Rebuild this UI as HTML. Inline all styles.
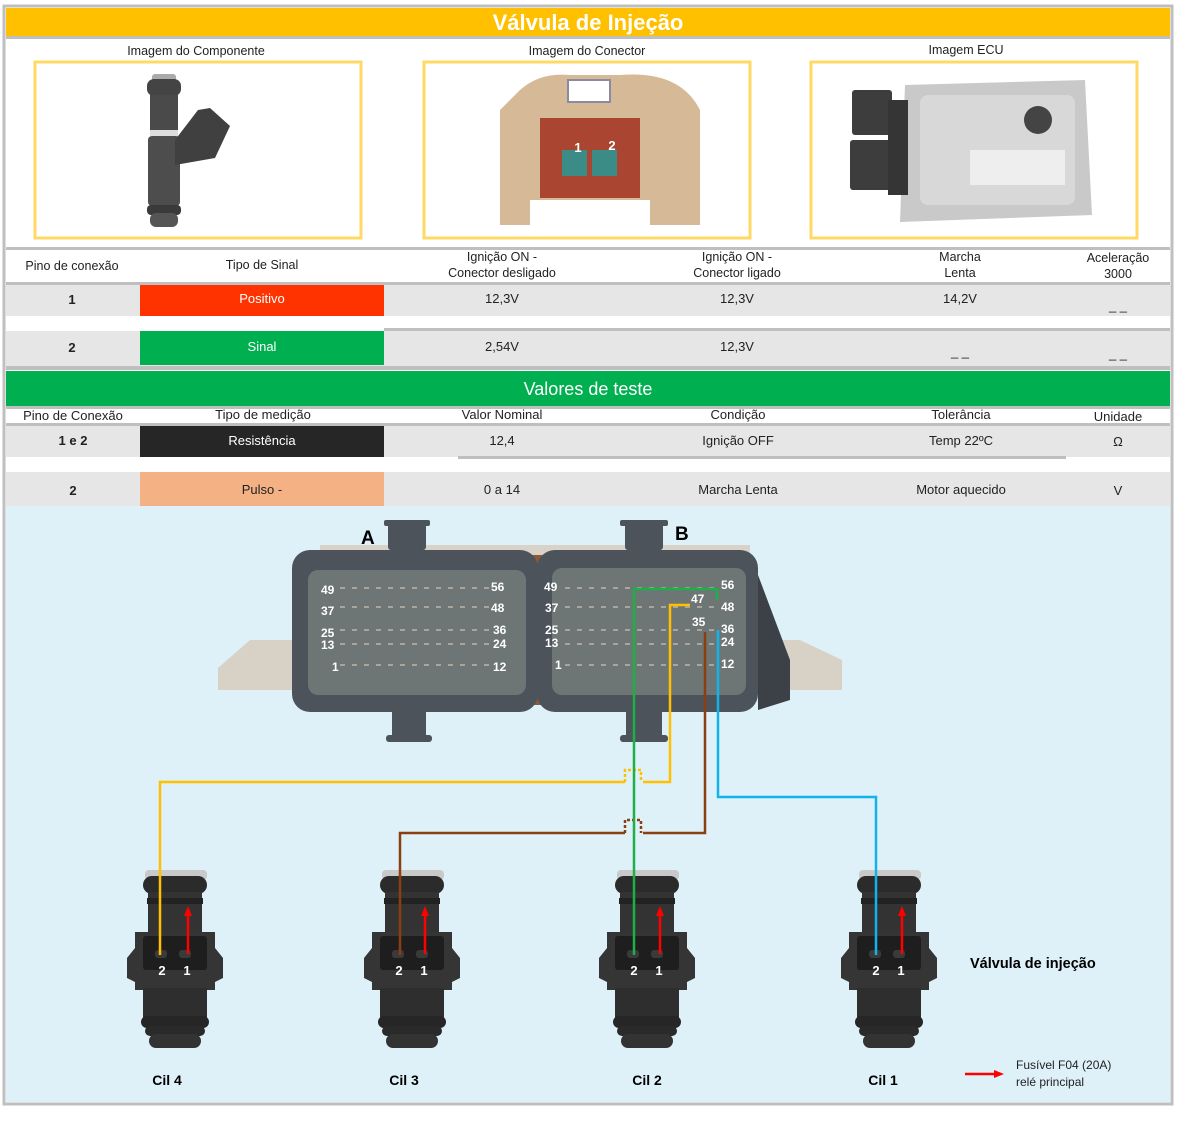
<!DOCTYPE html>
<html><head><meta charset="utf-8"><style>
html,body{margin:0;padding:0;background:#fff}
svg{display:block}
text{font-family:"Liberation Sans",sans-serif}
</style></head><body>
<svg width="1186" height="1133" viewBox="0 0 1186 1133" xmlns="http://www.w3.org/2000/svg">
<defs>
<g id="inj">
  <rect x="-30" y="0" width="62" height="10" rx="4" fill="#c9c9c9"/>
  <rect x="-32" y="6" width="64" height="18" rx="9" fill="#2b2b2b"/>
  <rect x="-27" y="22" width="54" height="40" fill="#333"/>
  <rect x="-28" y="28" width="56" height="6" fill="#222"/>
  <path d="M-40 62 L40 62 L40 78 L48 88 L48 108 L40 112 L40 120 L-40 120 L-40 112 L-48 108 L-48 88 L-40 78 Z" fill="#353535"/>
  <rect x="-32" y="66" width="64" height="34" rx="3" fill="#1e1e1e"/>
  <rect x="-20" y="80" width="12" height="8" rx="3" fill="#3a3a3a"/>
  <rect x="4" y="80" width="12" height="8" rx="3" fill="#3a3a3a"/>
  <rect x="-8" y="118" width="16" height="12" fill="#303030"/>
  <rect x="-32" y="118" width="64" height="30" fill="#2e2e2e"/>
  <rect x="-34" y="146" width="68" height="12" rx="6" fill="#262626"/>
  <rect x="-30" y="156" width="60" height="10" rx="5" fill="#2a2a2a"/>
  <rect x="-26" y="164" width="52" height="14" rx="7" fill="#333"/>
  <text x="-13" y="105" fill="#fff" font-size="13" font-weight="bold" text-anchor="middle">2</text>
  <text x="12" y="105" fill="#fff" font-size="13" font-weight="bold" text-anchor="middle">1</text>
  <line x1="13" y1="84" x2="13" y2="44" stroke="#f00" stroke-width="2.5"/>
  <path d="M9 46 L13 36 L17 46 Z" fill="#f00"/>
</g>
</defs>
<rect x="4" y="6" width="1168" height="1098" fill="#fff" stroke="#bfbfbf" stroke-width="3"/>
<rect x="6" y="8" width="1164" height="28" fill="#FFC000"/>
<text x="588" y="30" fill="#fff" font-size="22" font-weight="bold" text-anchor="middle">Válvula de Injeção</text>
<rect x="6" y="36" width="1164" height="3" fill="#bfbfbf"/>
<g font-size="12.5" fill="#222" text-anchor="middle">
<text x="196" y="55">Imagem do Componente</text>
<text x="587" y="55">Imagem do Conector</text>
<text x="966" y="54">Imagem ECU</text>
</g>
<g fill="#fff" stroke="#FFD966" stroke-width="3">
<rect x="35" y="62" width="326" height="176"/>
<rect x="424" y="62" width="326" height="176"/>
<rect x="811" y="62" width="326" height="176"/>
</g>
<rect x="152" y="74" width="24" height="8" rx="3" fill="#aaa"/>
<rect x="147" y="79" width="34" height="17" rx="7" fill="#444"/>
<rect x="150" y="95" width="28" height="35" fill="#4a4a4a"/>
<rect x="150" y="130" width="28" height="6" fill="#ddd"/>
<rect x="148" y="136" width="32" height="70" rx="4" fill="#4d4d4d"/>
<path d="M175 140 L198 110 L210 108 L230 126 L215 158 L175 165 Z" fill="#404040"/>
<rect x="147" y="205" width="34" height="10" rx="4" fill="#3a3a3a"/>
<rect x="150" y="213" width="28" height="14" rx="6" fill="#555"/>
<path d="M520 90 Q540 72 570 75 L620 75 Q680 70 700 110 L700 225 L650 225 L650 200 L530 200 L530 225 L500 225 L500 110 Z" fill="#D6B996"/>
<rect x="568" y="80" width="42" height="22" fill="#fff" stroke="#8a8aa0" stroke-width="2"/>
<rect x="540" y="118" width="100" height="80" fill="#A94530"/>
<rect x="562" y="150" width="25" height="26" fill="#3B8C86"/>
<rect x="592" y="150" width="25" height="26" fill="#3B8C86"/>
<text x="578" y="152" fill="#fff" font-size="13" font-weight="bold" text-anchor="middle">1</text>
<text x="612" y="150" fill="#fff" font-size="13" font-weight="bold" text-anchor="middle">2</text>
<path d="M905 85 L1085 80 L1092 215 L900 222 Z" fill="#C9C9C9"/>
<rect x="920" y="95" width="155" height="110" rx="8" fill="#D8D8D8"/>
<circle cx="1038" cy="120" r="14" fill="#444"/>
<rect x="970" y="150" width="95" height="35" fill="#eee"/>
<rect x="852" y="90" width="40" height="45" rx="3" fill="#3d3d3d"/>
<rect x="850" y="140" width="42" height="50" rx="3" fill="#3d3d3d"/>
<rect x="888" y="100" width="20" height="95" fill="#353535"/>
<rect x="6" y="247" width="1164" height="3" fill="#bfbfbf"/>
<g font-size="12.5" fill="#222" text-anchor="middle">
<text x="72" y="270">Pino de conexão</text>
<text x="262" y="269">Tipo de Sinal</text>
<text x="502" y="261">Ignição ON -</text><text x="502" y="277">Conector desligado</text>
<text x="737" y="261">Ignição ON -</text><text x="737" y="277">Conector ligado</text>
<text x="960" y="261">Marcha</text><text x="960" y="277">Lenta</text>
<text x="1118" y="262">Aceleração</text><text x="1118" y="278">3000</text>
</g>
<rect x="6" y="282" width="1164" height="3" fill="#bfbfbf"/>
<rect x="6" y="285" width="1164" height="31" fill="#E6E6E6"/>
<rect x="140" y="285" width="244" height="31" fill="#FF3300"/>
<rect x="384" y="328" width="786" height="3" fill="#bfbfbf"/>
<rect x="6" y="331" width="1164" height="35" fill="#E6E6E6"/>
<rect x="140" y="331" width="244" height="34" fill="#00B050"/>
<rect x="6" y="366" width="1164" height="4" fill="#bfbfbf"/>
<g font-size="13" fill="#222" text-anchor="middle">
<text x="72" y="304" font-weight="bold">1</text>
<text x="262" y="303" fill="#fff">Positivo</text>
<text x="502" y="303">12,3V</text><text x="737" y="303">12,3V</text><text x="960" y="303">14,2V</text><text x="1118" y="310">_ _</text>
<text x="72" y="352" font-weight="bold">2</text>
<text x="262" y="351" fill="#fff">Sinal</text>
<text x="502" y="351">2,54V</text><text x="737" y="351">12,3V</text><text x="960" y="356">_ _</text><text x="1118" y="358">_ _</text>
</g>
<rect x="6" y="371" width="1164" height="35" fill="#00B050"/>
<text x="588" y="395" fill="#fff" font-size="18" text-anchor="middle">Valores de teste</text>
<rect x="6" y="406" width="1164" height="3" fill="#bfbfbf"/>
<g font-size="13" fill="#222" text-anchor="middle">
<text x="73" y="420">Pino de Conexão</text><text x="263" y="419">Tipo de medição</text>
<text x="502" y="419">Valor Nominal</text><text x="738" y="419">Condição</text>
<text x="961" y="419">Tolerância</text><text x="1118" y="421">Unidade</text>
</g>
<rect x="6" y="423" width="1164" height="3" fill="#bfbfbf"/>
<rect x="6" y="426" width="1164" height="31" fill="#E6E6E6"/>
<rect x="140" y="426" width="244" height="31" fill="#262626"/>
<rect x="458" y="456" width="608" height="3" fill="#bfbfbf"/>
<rect x="6" y="472" width="1164" height="34" fill="#E6E6E6"/>
<rect x="140" y="472" width="244" height="34" fill="#F4B183"/>
<g font-size="13" fill="#222" text-anchor="middle">
<text x="73" y="445" font-weight="bold">1 e 2</text>
<text x="262" y="445" fill="#fff">Resistência</text>
<text x="502" y="445">12,4</text><text x="738" y="445">Ignição OFF</text><text x="961" y="445">Temp 22ºC</text><text x="1118" y="446">Ω</text>
<text x="73" y="495" font-weight="bold">2</text>
<text x="262" y="494">Pulso -</text>
<text x="502" y="494">0 a 14</text><text x="738" y="494">Marcha Lenta</text><text x="961" y="494">Motor aquecido</text><text x="1118" y="495">V</text>
</g>
<rect x="6" y="506" width="1164" height="596" fill="#DEF0F8"/>
<path d="M218 668 L250 640 L800 640 L842 660 L842 690 L218 690 Z" fill="#D8D2C6"/>
<rect x="320" y="545" width="430" height="20" fill="#D9D2C8"/>
<rect x="528" y="555" width="16" height="150" fill="#8C5A3A"/>
<rect x="292" y="550" width="246" height="162" rx="18" fill="#4C535B"/>
<rect x="537" y="550" width="221" height="162" rx="18" fill="#4C535B"/>
<path d="M758 575 L790 660 L790 700 L758 710 Z" fill="#3c4148"/>
<rect x="308" y="570" width="218" height="125" rx="10" fill="#6D7674"/>
<rect x="552" y="568" width="194" height="127" rx="10" fill="#6D7674"/>
<g stroke="#A9A59A" stroke-width="2" stroke-dasharray="5 7">
<line x1="340" y1="588" x2="492" y2="588"/><line x1="340" y1="607" x2="492" y2="607"/><line x1="340" y1="630" x2="492" y2="630"/><line x1="340" y1="644" x2="492" y2="644"/><line x1="340" y1="665" x2="492" y2="665"/>
<line x1="565" y1="588" x2="720" y2="588"/><line x1="565" y1="607" x2="720" y2="607"/><line x1="565" y1="630" x2="720" y2="630"/><line x1="565" y1="644" x2="720" y2="644"/><line x1="565" y1="665" x2="720" y2="665"/>
</g>
<g fill="#4C535B">
<rect x="388" y="520" width="38" height="30" rx="3"/><rect x="384" y="520" width="46" height="6" rx="2"/>
<rect x="625" y="520" width="38" height="30" rx="3"/><rect x="620" y="520" width="48" height="6" rx="2"/>
<rect x="392" y="708" width="34" height="30" rx="3"/><rect x="386" y="735" width="46" height="7" rx="3"/>
<rect x="626" y="708" width="36" height="30" rx="3"/><rect x="620" y="735" width="48" height="7" rx="3"/>
</g>
<text x="361" y="544" font-size="19" font-weight="bold" fill="#000">A</text>
<text x="675" y="540" font-size="19" font-weight="bold" fill="#000">B</text>
<g font-size="12" font-weight="bold" fill="#fff">
<text x="321" y="594">49</text><text x="321" y="615">37</text><text x="321" y="637">25</text><text x="321" y="649">13</text><text x="332" y="671">1</text>
<text x="491" y="591">56</text><text x="491" y="612">48</text><text x="493" y="634">36</text><text x="493" y="648">24</text><text x="493" y="671">12</text>
<text x="544" y="591">49</text><text x="545" y="612">37</text><text x="545" y="634">25</text><text x="545" y="647">13</text><text x="555" y="669">1</text>
<text x="721" y="589">56</text><text x="721" y="611">48</text><text x="721" y="633">36</text><text x="721" y="646">24</text><text x="721" y="668">12</text>
<text x="691" y="603">47</text><text x="692" y="626">35</text>
</g>
<g fill="none" stroke-width="2.5">
<path d="M690 605 L670 605 L670 782 L643 782 M625 782 L160 782 L160 955" stroke="#FFC000"/>
<path d="M625 782 L625 770 L641 770 L641 782" stroke="#FFC000" stroke-dasharray="3 2"/>
<path d="M705 632 L705 833 L643 833 M625 833 L400 833 L400 955" stroke="#8B3E0F"/>
<path d="M625 833 L625 820 L641 820 L641 833" stroke="#8B3E0F" stroke-dasharray="3 2"/>
<path d="M717 600 L717 589 L634 589 L634 955" stroke="#1DB047"/>
<path d="M718 630 L718 797 L876 797 L876 955" stroke="#10B4EA"/>
</g>
<use href="#inj" x="175" y="870"/>
<use href="#inj" x="412" y="870"/>
<use href="#inj" x="647" y="870"/>
<use href="#inj" x="889" y="870"/>
<g fill="none" stroke-width="2.5">
<line x1="160" y1="870" x2="160" y2="955" stroke="#FFC000"/>
<line x1="400" y1="870" x2="400" y2="955" stroke="#8B3E0F"/>
<line x1="634" y1="870" x2="634" y2="955" stroke="#1DB047"/>
<line x1="876" y1="870" x2="876" y2="955" stroke="#10B4EA"/>
</g>
<g font-size="14" font-weight="bold" fill="#000" text-anchor="middle">
<text x="167" y="1085">Cil 4</text><text x="404" y="1085">Cil 3</text><text x="647" y="1085">Cil 2</text><text x="883" y="1085">Cil 1</text>
</g>
<text x="970" y="968" font-size="14.5" font-weight="bold" fill="#000">Válvula de injeção</text>
<line x1="965" y1="1074" x2="996" y2="1074" stroke="#f00" stroke-width="2.5"/>
<path d="M994 1070 L1004 1074 L994 1078 Z" fill="#f00"/>
<text x="1016" y="1069" font-size="12" fill="#222">Fusível F04 (20A)</text>
<text x="1016" y="1086" font-size="12" fill="#222">relé principal</text>
</svg>
</body></html>
